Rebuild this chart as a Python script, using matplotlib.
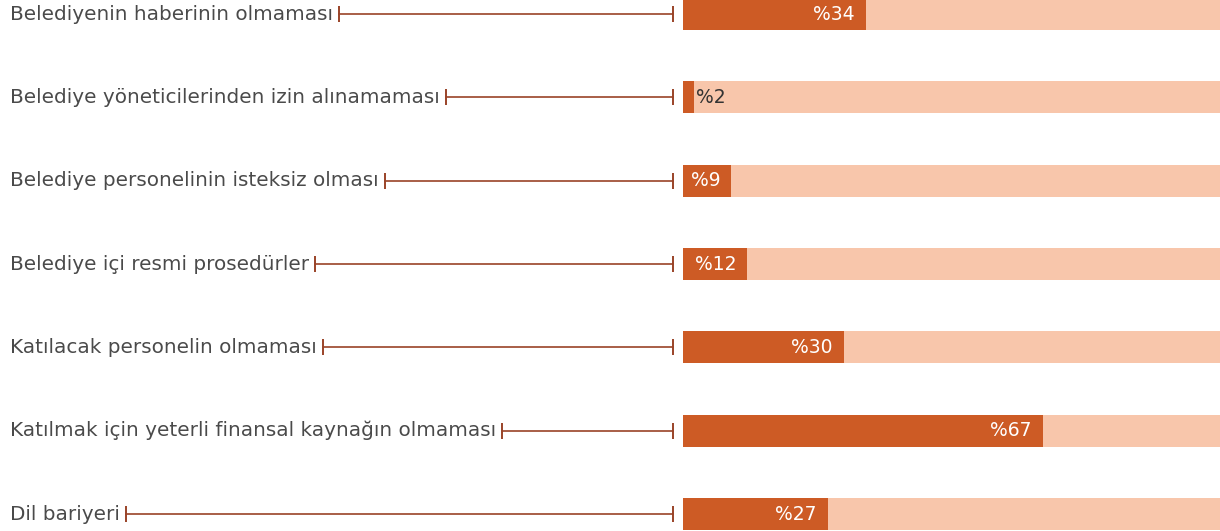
import matplotlib.pyplot as plt
from matplotlib.transforms import blended_transform_factory

reasons = [
    'Belediyenin haberinin olmaması',
    'Belediye yöneticilerinden izin alınamaması',
    'Belediye personelinin isteksiz olması',
    'Belediye içi resmi prosedürler',
    'Katılacak personelin olmaması',
    'Katılmak için yeterli finansal kaynağın olmaması',
    'Dil bariyeri',
]
shares = [34, 2, 9, 12, 30, 67, 27]

DARK = '#CD5B25'
LIGHT = '#F8C6AB'
LINE = '#9A4328'
TEXT = '#4A4A4A'

W, H = 1220, 531
fig = plt.figure(figsize=(W / 100, H / 100), dpi=100)
ax = fig.add_axes([683 / W, 0, 537 / W, 1])

rows = range(len(reasons))
ax.barh(rows, [100] * len(shares), height=0.385, color=LIGHT)
ax.barh(rows, shares, height=0.385, color=DARK)
ax.set_xlim(0, 100)
ax.set_ylim(6.204, -0.168)
ax.axis('off')

for i, v in enumerate(shares):
    if v < 5:
        ax.annotate(f'%{v}', (v, i), xytext=(1.5, 0), textcoords='offset points',
                    ha='left', va='center', color='#333333', fontsize=13.5)
    else:
        ax.annotate(f'%{v}', (v, i), xytext=(-8, 0), textcoords='offset points',
                    ha='right', va='center', color='white', fontsize=13.5)

# category labels sit left of the bars, joined by a |---| connector
trans = blended_transform_factory(fig.transFigure, ax.transData)
labels = [fig.text(10 / W, i, r, transform=trans, ha='left', va='center',
                   color=TEXT, fontsize=14.4) for i, r in enumerate(reasons)]
fig.canvas.draw()
for i, t in enumerate(labels):
    x0 = (t.get_window_extent().x1 + 6) / W
    ax.plot([x0, 673 / W], [i, i], transform=trans, color=LINE, lw=1.2,
            marker='|', markersize=12, markeredgewidth=1.4, clip_on=False)

fig.savefig('out.png', dpi=100)
